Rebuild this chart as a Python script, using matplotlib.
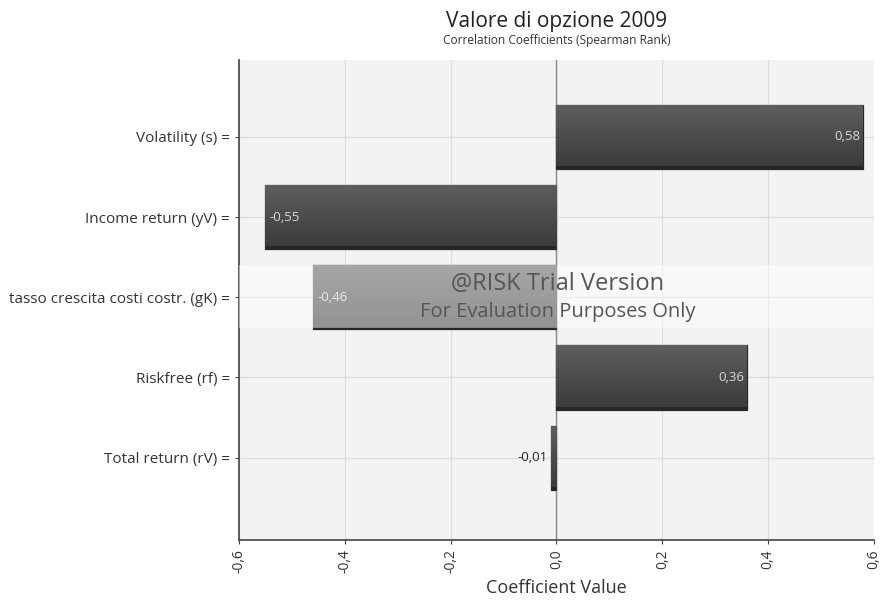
import matplotlib
matplotlib.use("Agg")
import matplotlib.pyplot as plt
import numpy as np
from matplotlib.colors import LinearSegmentedColormap
from matplotlib.patches import Rectangle

categories = ["Volatility (s) =", "Income return (yV) =",
              "tasso crescita costi costr. (gK) =", "Riskfree (rf) =",
              "Total return (rV) ="]
values = [0.58, -0.55, -0.46, 0.36, -0.01]
xticks = [-0.6, -0.4, -0.2, 0.0, 0.2, 0.4, 0.6]


def comma(v, nd=2):
    return f"{v:.{nd}f}".replace(".", ",")


plt.rcParams["font.family"] = ["Open Sans", "DejaVu Sans"]

fig = plt.figure(figsize=(8.85, 6.05), dpi=100)
fig.patch.set_facecolor("white")
ax = fig.add_axes([0.270, 0.107, 0.7176, 0.794])
ax.set_facecolor("#f3f3f3")

y = np.arange(len(categories))
bars = ax.barh(y, values, height=0.8, color="#4a4a4a", edgecolor="#262626",
               linewidth=0.9, zorder=3)

# subtle vertical shading on each bar
shade = LinearSegmentedColormap.from_list("shade", ["#5e5e5e", "#3a3a3a"])
grad = np.linspace(0, 1, 64).reshape(-1, 1)
for b in bars:
    x0, y0 = b.get_x(), b.get_y()
    w, h = b.get_width(), b.get_height()
    im = ax.imshow(grad, cmap=shade, aspect="auto",
                   extent=[x0, x0 + w, y0 + h, y0], zorder=3.5,
                   interpolation="bilinear")
    im.set_clip_path(b)
    ax.add_patch(Rectangle((min(x0, x0 + w), y0 + h - 0.035), abs(w), 0.035,
                           color="#262626", zorder=3.6, lw=0))

for yi, v in zip(y, values):
    if abs(v) > 0.1:
        if v > 0:
            ax.text(v - 0.005, yi, comma(v), ha="right", va="center",
                    color="#d8d8d8", fontsize=9.5, zorder=5)
        else:
            ax.text(v + 0.008, yi, comma(v), ha="left", va="center",
                    color="#d8d8d8", fontsize=9.5, zorder=5)
    else:
        ax.text(v - 0.006, yi, comma(v), ha="right", va="center",
                color="#222222", fontsize=9.5, zorder=5)

ax.set_xlim(-0.6, 0.6)
ax.set_ylim(4 + 1.03, -0.96)
ax.set_yticks(y, categories, fontsize=11, color="#333333")
ax.set_xticks(xticks, [comma(t, 1) for t in xticks],
              rotation=90, fontsize=10, color="#333333")
ax.grid(True, color="#dcdcdc", lw=0.8, zorder=0)
ax.axvline(0, color="#888888", lw=1.0, zorder=2)
for s in ["top", "right"]:
    ax.spines[s].set_visible(False)
for s in ["left", "bottom"]:
    ax.spines[s].set_color("#444444")
    ax.spines[s].set_linewidth(1.2)
ax.tick_params(axis="both", length=3, color="#444444")
ax.set_xlabel("Coefficient Value", fontsize=13, color="#333333", labelpad=4)

fig.text(0.629, 0.965, "Valore di opzione 2009", ha="center", va="center",
         fontsize=15, color="#222222")
fig.text(0.629, 0.933, "Correlation Coefficients (Spearman Rank)",
         ha="center", va="center", fontsize=8.6, color="#333333")

# trial watermark band across the plot area (pixel rows 265..328)
ax.add_patch(Rectangle((0, 1 - (328 - 60) / 480), 1, 63 / 480,
                       transform=ax.transAxes, color="white", alpha=0.45,
                       zorder=10, lw=0))
fig.text(0.630, 1 - 284 / 605, "@RISK Trial Version", ha="center",
         va="center", fontsize=17, color="#555555", zorder=11)
fig.text(0.630, 1 - 312 / 605, "For Evaluation Purposes Only", ha="center",
         va="center", fontsize=14.5, color="#555555", zorder=11)

fig.savefig("out.png", dpi=100)
